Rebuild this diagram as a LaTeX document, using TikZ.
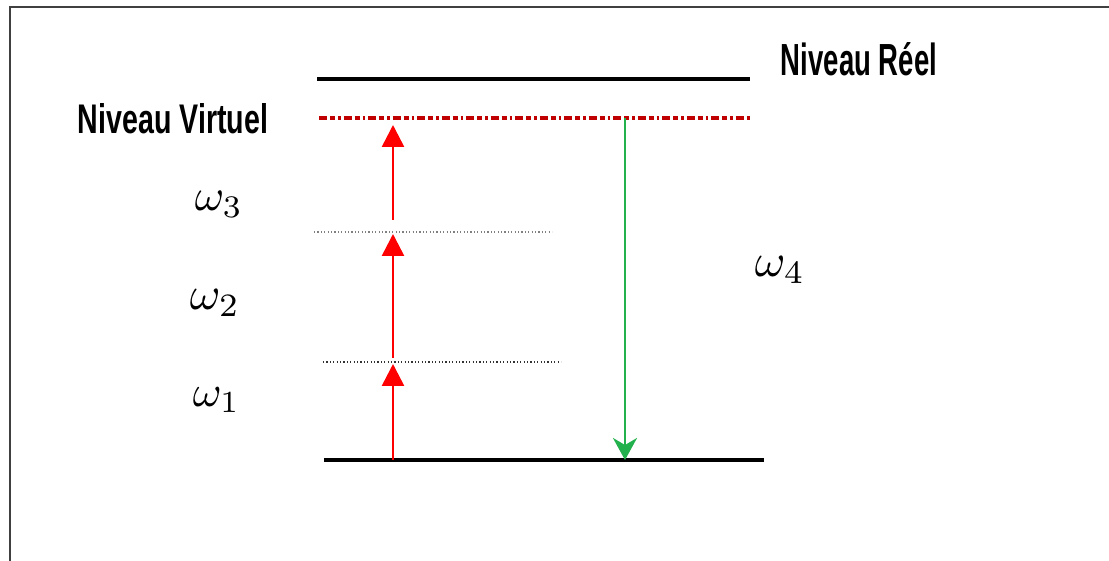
\documentclass[tikz,border=0pt]{standalone}
\usepackage{fontspec}
\setmainfont{Liberation Sans}
\usetikzlibrary{arrows.meta}
\definecolor{virt}{HTML}{C00000}
\definecolor{grn}{HTML}{22B14C}
\definecolor{frame}{HTML}{404040}
\tikzset{
  level/.style={line width=4pt,black},
  virtlevel/.style={line width=3.5pt,virt,dash pattern=on 8pt off 3pt on 5pt off 3pt on 2.5pt off 3pt},
  dotlevel/.style={line width=1.5pt,dash pattern=on 1.2pt off 2.2pt},
  redarrow/.style={line width=2.6pt,red,-{Triangle[width=22pt,length=22pt]}},
  greenarrow/.style={line width=2.6pt,grn,-{Stealth[width=24pt,length=22pt,inset=7pt]}},
  lbl/.style={inner sep=0pt,font=\bfseries},
  om/.style={inner sep=0pt}
}
\begin{document}
\begin{tikzpicture}[x=1pt,y=-1pt]
\useasboundingbox (0,0) rectangle (1109,561);
\fill[white] (0,0) rectangle (1109,561);
% frame
\draw[frame,line width=2.5pt] (10,561) -- (10,7) -- (1109,7);
% levels
\coordinate (rL) at (317,79); \coordinate (rR) at (750,79);
\coordinate (vL) at (319,118); \coordinate (vR) at (750,118);
\coordinate (d1L) at (314,232); \coordinate (d1R) at (552,232);
\coordinate (d2L) at (323,362); \coordinate (d2R) at (561,362);
\coordinate (gL) at (324,460); \coordinate (gR) at (764,460);
\draw[level] (rL) -- (rR);
\draw[virtlevel] (vL) -- (vR);
\draw[dotlevel,gray] (d1L) -- (d1R);
\draw[dotlevel,black!80] (d2L) -- (d2R);
\draw[level] (gL) -- (gR);
% arrows
\coordinate (a1s) at (393,460); \coordinate (a1e) at (393,364);
\coordinate (a2s) at (393,358); \coordinate (a2e) at (393,234);
\coordinate (a3s) at (393,220); \coordinate (a3e) at (393,125);
\draw[redarrow] (a1s) -- (a1e);
\draw[redarrow] (a2s) -- (a2e);
\draw[redarrow] (a3s) -- (a3e);
\coordinate (gs) at (625,118); \coordinate (ge) at (625,460);
\draw[greenarrow] (gs) -- (ge);
% labels
\node[lbl] (nv) at (173,119) {\resizebox{190pt}{30pt}{Niveau Virtuel}};
\node[lbl] (nr) at (859,59) {\resizebox{156pt}{33pt}{Niveau Réel}};
\node[om] (w3) at (219,204.5) {\resizebox{48pt}{!}{$\omega_3$}};
\node[om] (w2) at (215,302.5) {\resizebox{50pt}{!}{$\omega_2$}};
\node[om] (w1) at (216.5,400) {\resizebox{47pt}{!}{$\omega_1$}};
\node[om] (w4) at (780,270) {\resizebox{50pt}{!}{$\omega_4$}};
\end{tikzpicture}
\end{document}
